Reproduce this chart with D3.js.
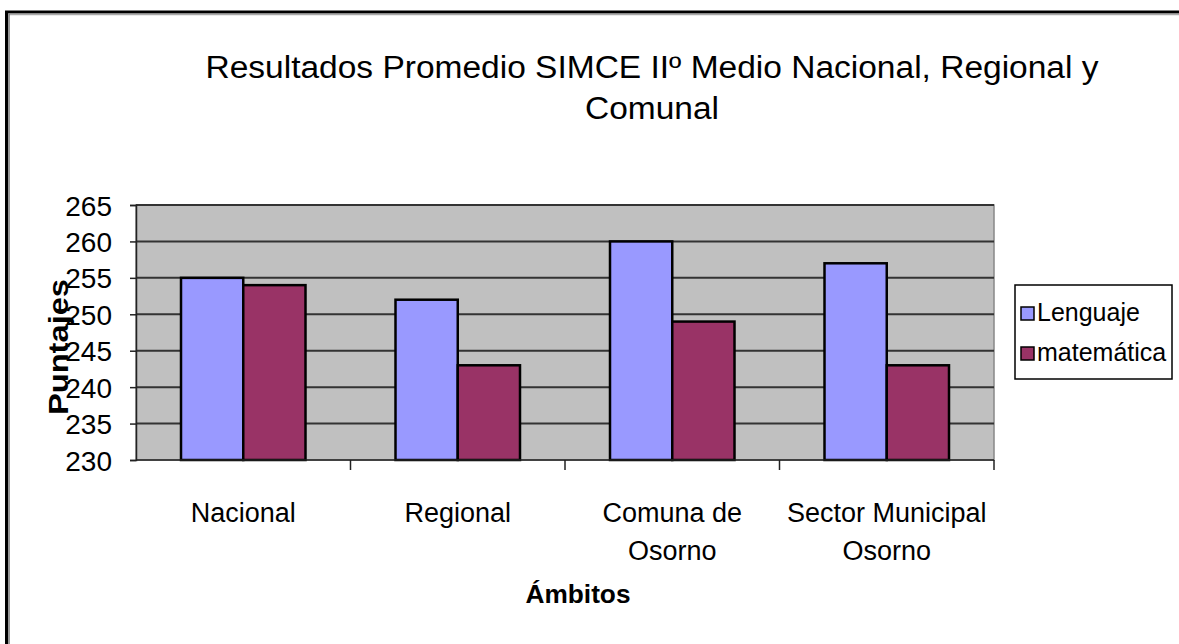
<!DOCTYPE html>
<html>
<head>
<meta charset="utf-8">
<script src="https://cdn.jsdelivr.net/npm/d3@7"></script>
<style>
  body { margin: 0; background: #fff; }
  svg { display: block; font-family: "Liberation Sans", Arial, sans-serif; }
</style>
</head>
<body>
<div id="chart"></div>
<script>
const categories = [["Nacional"], ["Regional"], ["Comuna de", "Osorno"], ["Sector Municipal", "Osorno"]];
const series = ["Lenguaje", "matemática"];
const lenguaje = [255, 252, 260, 257];
const matematica = [254, 243, 249, 243];
const yTicks = [230, 235, 240, 245, 250, 255, 260, 265];
const colors = ["#9999ff", "#993366"];

const width = 1179, height = 644;
const plot = { left: 136, right: 994, top: 205, bottom: 460 };

const svg = d3.select('#chart').append('svg')
    .attr('width', width)
    .attr('height', height);

// frame (cropped screenshot: only top and left edges)
svg.append('line').attr('x1', 5).attr('x2', width).attr('y1', 12).attr('y2', 12)
    .attr('stroke', '#000').attr('stroke-width', 3);
svg.append('line').attr('x1', 9).attr('x2', width).attr('y1', 14.5).attr('y2', 14.5)
    .attr('stroke', '#aaa').attr('stroke-width', 1.5);
svg.append('line').attr('x1', 6.5).attr('x2', 6.5).attr('y1', 11).attr('y2', height)
    .attr('stroke', '#000').attr('stroke-width', 3);
svg.append('line').attr('x1', 9).attr('x2', 9).attr('y1', 14).attr('y2', height)
    .attr('stroke', '#777').attr('stroke-width', 1.5);

const x0 = d3.scaleBand()
    .domain(d3.range(categories.length))
    .range([plot.left, plot.right]);

const x1 = d3.scaleBand()
    .domain(series)
    .range([45, x0.bandwidth() - 45]);

const y = d3.scaleLinear()
    .domain([230, 265])
    .range([plot.bottom, plot.top]);

// plot area
svg.append('rect')
    .attr('x', plot.left).attr('y', plot.top)
    .attr('width', plot.right - plot.left).attr('height', plot.bottom - plot.top)
    .attr('fill', '#c0c0c0').attr('stroke', '#888').attr('stroke-width', 1.5);

svg.append('g')
    .selectAll('line')
    .data(yTicks.slice(1))
    .join('line')
    .attr('x1', plot.left).attr('x2', plot.right)
    .attr('y1', d => y(d)).attr('y2', d => y(d))
    .attr('stroke', '#333').attr('stroke-width', 2);

// bars
const values = [lenguaje, matematica];
svg.append('g')
    .selectAll('g')
    .data(categories.map((c, i) => i))
    .join('g')
    .attr('transform', i => `translate(${x0(i)},0)`)
    .selectAll('rect')
    .data(i => series.map((s, k) => ({ s, k, v: values[k][i] })))
    .join('rect')
    .attr('x', d => x1(d.s))
    .attr('y', d => y(d.v))
    .attr('width', x1.bandwidth())
    .attr('height', d => y(230) - y(d.v))
    .attr('fill', d => colors[d.k])
    .attr('stroke', '#000')
    .attr('stroke-width', 2.5);

// y axis
const yAxis = svg.append('g')
    .attr('transform', `translate(${plot.left},0)`)
    .call(d3.axisLeft(y).tickValues(yTicks).tickSize(6).tickPadding(18).tickFormat(d3.format('d')));
yAxis.select('.domain').attr('stroke', '#222').attr('stroke-width', 1.5);
yAxis.selectAll('.tick line').attr('stroke', '#222').attr('stroke-width', 1.5);
yAxis.selectAll('text').attr('font-size', 28).attr('fill', '#000').attr('dy', '0.36em');

// x axis
const xAxisG = svg.append('g')
    .attr('transform', `translate(0,${plot.bottom})`);
xAxisG.append('line').attr('x1', plot.left).attr('x2', plot.right)
    .attr('stroke', '#222').attr('stroke-width', 1.5);
xAxisG.selectAll('.tk')
    .data(d3.range(1, categories.length + 1))
    .join('line')
    .attr('class', 'tk')
    .attr('x1', i => i < categories.length ? x0(i) : plot.right)
    .attr('x2', i => i < categories.length ? x0(i) : plot.right)
    .attr('y1', 0).attr('y2', 10)
    .attr('stroke', '#222').attr('stroke-width', 1.5);
xAxisG.selectAll('text')
    .data(categories)
    .join('text')
    .attr('text-anchor', 'middle')
    .attr('font-size', 27)
    .attr('fill', '#000')
    .attr('transform', (d, i) => `translate(${x0(i) + x0.bandwidth() / 2},62)`)
    .selectAll('tspan')
    .data(d => d)
    .join('tspan')
    .attr('x', 0)
    .attr('y', (d, i) => i * 38)
    .text(d => d);

// axis titles
svg.append('text')
    .attr('x', 578).attr('y', 603)
    .attr('text-anchor', 'middle')
    .attr('font-size', 26).attr('font-weight', 'bold')
    .attr('textLength', 105).attr('lengthAdjust', 'spacingAndGlyphs')
    .text('Ámbitos');

svg.append('text')
    .attr('transform', 'translate(68,347) rotate(-90)')
    .attr('text-anchor', 'middle')
    .attr('font-size', 27).attr('font-weight', 'bold')
    .attr('textLength', 136).attr('lengthAdjust', 'spacingAndGlyphs')
    .text('Puntajes');

// title
const title = svg.append('g').attr('font-size', 31).attr('fill', '#000').attr('text-anchor', 'middle');
title.append('text').attr('x', 652).attr('y', 78)
    .attr('textLength', 893).attr('lengthAdjust', 'spacingAndGlyphs')
    .text('Resultados Promedio SIMCE IIº Medio Nacional, Regional y');
title.append('text').attr('x', 652).attr('y', 119)
    .attr('textLength', 134).attr('lengthAdjust', 'spacingAndGlyphs')
    .text('Comunal');

// legend
const legend = svg.append('g').attr('transform', 'translate(1015,285)');
legend.append('rect')
    .attr('width', 157).attr('height', 94)
    .attr('fill', '#fff').attr('stroke', '#000').attr('stroke-width', 1.5);
const li = legend.selectAll('g.item')
    .data(series)
    .join('g')
    .attr('class', 'item')
    .attr('transform', (d, i) => `translate(6,${22 + i * 40})`);
li.append('rect')
    .attr('width', 13).attr('height', 13)
    .attr('fill', (d, i) => colors[i])
    .attr('stroke', '#000').attr('stroke-width', 1.5);
li.append('text')
    .attr('x', 16).attr('y', 14)
    .attr('font-size', 25).attr('fill', '#000')
    .text(d => d);
</script>
</body>
</html>
